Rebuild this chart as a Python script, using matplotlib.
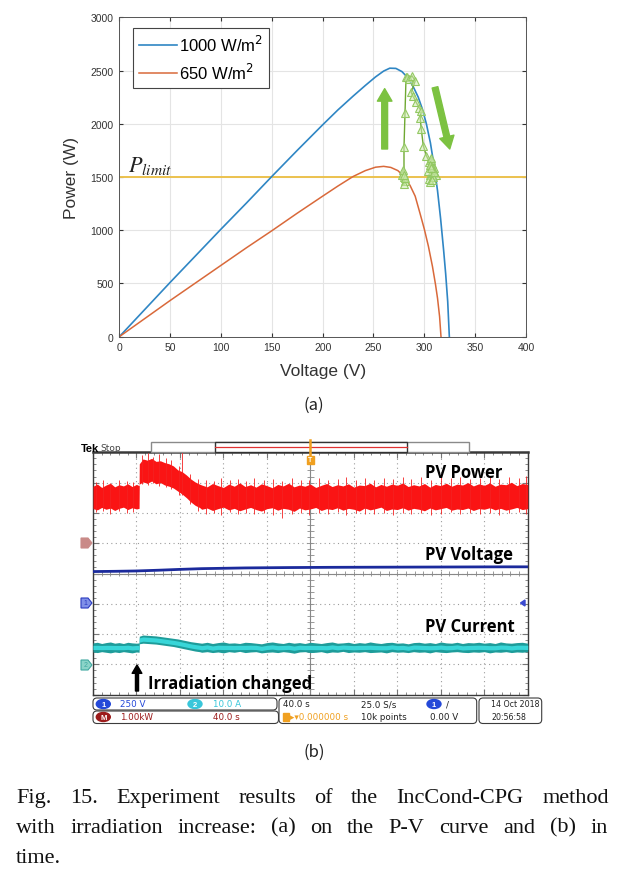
import numpy as np
import matplotlib
matplotlib.use('Agg')
import matplotlib.pyplot as plt
from matplotlib import font_manager
from matplotlib.patches import Rectangle, FancyBboxPatch, Polygon, Ellipse

plt.rcParams['font.family'] = ['Liberation Sans', 'DejaVu Sans']

W, H = 617, 879

# ---- (a) P-V curves ----
v_1000 = [0, 25, 50, 75, 100, 125, 150, 175, 200, 215, 230, 242, 252, 260, 266, 272, 278, 284, 289, 294,
          298, 302, 306, 310, 313, 316, 319, 321, 323, 324.6]
p_1000 = [0, 255, 510, 760, 1010, 1255, 1505, 1750, 1990, 2130, 2260, 2360, 2440, 2495, 2522, 2520, 2490, 2430,
          2350, 2250, 2140, 2000, 1820, 1580, 1370, 1110, 810, 590, 330, 0]
v_650 = [0, 25, 50, 75, 100, 125, 150, 175, 200, 215, 230, 242, 252, 260, 267, 274, 280, 286, 291, 296, 300,
         304, 308, 311, 313, 315, 316.4]
p_650 = [0, 170, 340, 505, 670, 835, 995, 1160, 1320, 1415, 1505, 1560, 1592, 1600, 1590, 1560, 1505, 1420,
         1320, 1150, 1010, 850, 660, 490, 360, 190, 0]
p_limit = 1500
traj_v = [280, 279, 281, 278, 280, 279, 281, 280, 280, 281, 282, 283, 285, 288, 291, 287, 289, 292, 295, 297, 296,
          297, 299, 302, 305, 307, 309, 306, 308, 310, 305, 307, 309, 306, 308, 311, 304, 307, 309, 306, 308, 310, 307]
traj_p = [1500, 1540, 1460, 1520, 1430, 1570, 1490, 1520, 1780, 2100, 2436, 2440, 2420, 2450, 2400, 2295, 2260, 2200,
          2150, 2120, 2050, 1950, 1794, 1700, 1640, 1600, 1560, 1520, 1620, 1580, 1480, 1660, 1540, 1450, 1590, 1520,
          1560, 1680, 1500, 1610, 1470, 1550, 1580]
legend_labels = ['1000 W/m$^2$', '650 W/m$^2$']
xticks_a = [0, 50, 100, 150, 200, 250, 300, 350, 400]
yticks_a = [0, 500, 1000, 1500, 2000, 2500, 3000]

# ---- (b) scope traces ----
t_env = [0, 4, 8, 12, 16, 20, 24, 28, 32, 36, 40, 42.4, 42.6, 46, 50, 54, 58, 62, 66, 70, 74, 78, 82, 86, 90, 94, 98] \
        + list(range(100, 401, 5))
pw_hi = [1.88, 1.95, 1.84, 1.92, 1.98, 1.86, 1.93, 1.89, 1.96, 1.87, 1.94, 1.90, 2.62,
         2.78, 2.74, 2.80, 2.70, 2.72, 2.66, 2.62, 2.55, 2.42, 2.36, 2.25, 2.12, 2.02, 1.95,
         1.92, 1.86, 1.97, 1.90, 1.84, 1.95, 1.88, 1.99, 1.87, 1.93,
         1.85, 1.96, 1.90, 1.83, 1.94, 1.89, 1.98, 1.86, 1.92, 1.88,
         1.95, 1.84, 1.91, 1.97, 1.87, 1.93, 1.89, 1.96, 1.85, 1.92,
         1.90, 1.98, 1.86, 1.94, 1.88, 1.95, 1.91, 1.99, 1.87, 1.93,
         1.89, 1.97, 1.85, 1.94, 1.90, 1.98, 1.88, 1.95, 1.92, 2.00,
         1.89, 1.96, 1.91, 1.99, 1.88, 1.95, 1.93, 2.01, 1.90, 1.97, 1.94]
pw_lo = [1.14, 1.10, 1.18, 1.12, 1.16, 1.08, 1.15, 1.19, 1.11, 1.17, 1.13, 1.15, 1.95,
         2.02, 1.98, 2.05, 1.96, 2.00, 1.92, 1.88, 1.82, 1.72, 1.62, 1.50, 1.36, 1.25, 1.18,
         1.12, 1.16, 1.08, 1.14, 1.19, 1.10, 1.15, 1.07, 1.13, 1.18,
         1.11, 1.06, 1.14, 1.17, 1.09, 1.15, 1.12, 1.05, 1.16, 1.10,
         1.13, 1.18, 1.08, 1.14, 1.11, 1.17, 1.09, 1.15, 1.12, 1.06,
         1.16, 1.10, 1.14, 1.19, 1.08, 1.13, 1.11, 1.17, 1.09, 1.15,
         1.12, 1.07, 1.16, 1.10, 1.14, 1.18, 1.09, 1.13, 1.11, 1.16,
         1.08, 1.14, 1.12, 1.17, 1.10, 1.15, 1.09, 1.13, 1.18, 1.11, 1.14]
spk_t = [3, 9, 16, 24, 31, 37, 45, 51, 55, 61, 67, 72, 79, 82, 89, 97, 104, 111, 118, 126, 133, 141, 148,
         157, 166, 174, 183, 191, 199, 208, 216, 225, 233, 242, 250, 259, 268, 276, 285, 293,
         302, 311, 320, 329, 338, 347, 356, 365, 374, 383, 392, 398]
spk_lo = [1.02, 1.05, 0.98, 1.06, 1.00, 1.04, 1.96, 1.92, 1.98, 1.90, 1.86, 1.80, 1.60, 1.58, 1.30, 1.05,
          0.98, 1.00, 0.92, 1.02, 0.95, 0.99, 0.96, 1.00, 0.93, 0.82, 0.97, 1.01, 0.94,
          0.99, 0.96, 1.02, 0.92, 1.00, 0.97, 0.95, 1.01, 0.93, 0.99, 0.96,
          1.00, 0.94, 0.98, 1.02, 0.95, 0.99, 0.97, 1.01, 0.94, 0.99, 1.03, 0.96]
spk_hi = [2.02, 2.08, 2.00, 2.10, 2.05, 2.03, 2.90, 2.98, 2.86, 2.93, 2.80, 2.75, 2.55, 3.05, 2.30, 2.12,
          2.10, 2.05, 2.14, 2.08, 2.12, 2.06, 2.15, 2.09, 2.13, 2.05, 2.16, 2.10, 2.08,
          2.15, 2.07, 2.12, 2.18, 2.10, 2.14, 2.09, 2.16, 2.11, 2.19, 2.13,
          2.17, 2.10, 2.20, 2.14, 2.18, 2.12, 2.16, 2.21, 2.13, 2.19, 2.15, 2.22]
cur_hi = [7.1, 7.3, 6.9, 7.2, 7.4, 7.0, 7.2, 6.9, 7.3, 7.1, 7.0, 7.1, 9.3,
          9.7, 9.6, 9.5, 9.4, 9.2, 9.0, 8.8, 8.6, 8.4, 8.1, 7.8, 7.5, 7.3, 7.1,
          7.0, 7.3, 6.9, 7.2, 7.4, 7.0, 7.1, 6.9, 7.3, 7.2,
          7.0, 6.8, 7.2, 7.4, 7.1, 6.9, 7.3, 7.0, 7.2, 6.9,
          7.3, 7.1, 6.9, 7.2, 7.4, 7.0, 7.1, 7.3, 6.9, 7.2,
          7.0, 7.4, 7.1, 6.9, 7.2, 7.3, 7.0, 7.1, 6.8, 7.2,
          7.3, 7.0, 7.2, 6.9, 7.4, 7.1, 7.0, 7.3, 6.9, 7.2,
          7.1, 7.3, 7.0, 7.2, 6.9, 7.4, 7.1, 7.0, 7.2, 7.3, 7.0]
cur_lo = [4.1, 3.9, 4.2, 4.0, 3.8, 4.1, 3.9, 4.2, 4.0, 3.8, 4.1, 4.0, 6.8,
          7.0, 6.9, 6.8, 6.7, 6.5, 6.3, 6.1, 5.9, 5.6, 5.3, 5.0, 4.7, 4.4, 4.2,
          4.0, 4.2, 3.9, 4.1, 3.8, 4.2, 4.0, 4.3, 3.9, 4.1,
          4.2, 3.8, 4.0, 4.1, 3.9, 4.2, 4.0, 3.7, 4.1, 4.2,
          3.9, 4.0, 4.2, 3.8, 4.1, 4.0, 4.3, 3.9, 4.1, 4.0,
          4.2, 3.9, 4.0, 4.1, 3.8, 4.2, 4.0, 4.1, 3.9, 4.2,
          4.0, 4.1, 3.8, 4.2, 4.0, 3.9, 4.1, 4.2, 4.0, 3.9,
          4.1, 4.0, 4.2, 3.8, 4.1, 4.0, 4.2, 3.9, 4.1, 4.0, 4.2]
t_volt = [0, 20, 40, 60, 80, 100, 140, 180, 220, 260, 300, 340, 380, 400]
volt = [266, 268, 271, 277, 284, 290, 296, 299, 301, 302, 303, 304, 305, 305]

# scope channel settings (per division) and reference offsets (divisions)
kw_div, v_div, a_div = 1.0, 250.0, 10.0
m_off, ch1_off, ch2_off = 1.0, -1.0, -3.0

# ---------------------------------------------------------------
fig = plt.figure(figsize=(W / 100, H / 100), dpi=100)


def px_axes(x0, y0, x1, y1, **kw):
    return fig.add_axes([x0 / W, 1 - y1 / H, (x1 - x0) / W, (y1 - y0) / H], **kw)


ax = px_axes(119.3, 18.3, 526, 337.7)
ax.grid(True, color='#e4e4e4', lw=0.8)
ax.set_axisbelow(True)
ax.plot(v_1000, p_1000, color='#2f86c4', lw=1.2, label=legend_labels[0])
ax.plot(v_650, p_650, color='#d9693a', lw=1.1, label=legend_labels[1])
ax.axhline(p_limit, color='#ecc24e', lw=1.4, zorder=1.5)
ax.plot(traj_v, traj_p, color='#6fa832', lw=1.0, marker='^', ms=6,
        mfc=(0.82, 0.92, 0.70, 0.55), mec='#93c862', mew=0.8, zorder=4)
arrow_kw = dict(arrowstyle='simple,head_width=1.05,head_length=0.9,tail_width=0.42',
                color='#7cc241', shrinkA=0, shrinkB=0)
ax.annotate('', xy=(261, 2330), xytext=(261, 1763), arrowprops=arrow_kw, zorder=5)
ax.annotate('', xy=(325, 1763), xytext=(310.5, 2342), arrowprops=arrow_kw, zorder=5)
ax.text(8.5, 1560, r'$P_{limit}$', fontsize=16, math_fontfamily='stix', color='#222222')

ax.set_xlim(0, 400)
ax.set_ylim(0, 3000)
ax.set_xticks(xticks_a)
ax.set_yticks(yticks_a)
ax.tick_params(direction='in', top=True, right=True, length=3, labelsize=7.5,
               colors='#333333', pad=4)
for s in ax.spines.values():
    s.set_color('#555555')
    s.set_linewidth(0.7)
ax.set_xlabel('Voltage (V)', fontsize=12.5, color='#333333')
ax.set_ylabel('Power (W)', fontsize=12.5, color='#333333')
ax.xaxis.set_label_coords(0.5, -0.082)
ax.yaxis.set_label_coords(-0.10, 0.5)
leg = ax.legend(loc='upper left', bbox_to_anchor=(0.033, 0.9655), borderaxespad=0,
                fontsize=12, fancybox=False, edgecolor='#444444', framealpha=1,
                handlelength=2.3, handletextpad=0.15, borderpad=0.35, labelspacing=0.45)
leg.get_frame().set_linewidth(0.8)

# ---- scope screen ----
sc = px_axes(93, 453.3, 527.7, 695.7)
sc.set_xlim(0, 400)
sc.set_ylim(-4, 4)
sc.set_xticks(np.arange(0, 401, 40))
sc.set_yticks(np.arange(-4, 5, 1))
sc.set_xticks(np.arange(0, 401, 8), minor=True)
sc.set_yticks(np.arange(-4, 4.01, 0.2), minor=True)
sc.tick_params(which='both', direction='in', top=True, right=True,
               labelbottom=False, labelleft=False, color='#777777')
sc.tick_params(which='major', length=4)
sc.tick_params(which='minor', length=2)
sc.grid(True, which='major', color='#9c9c9c', lw=0.8, linestyle=(0, (1, 3)))
sc.axhline(0, color='#888888', lw=0.8)
sc.axvline(200, color='#888888', lw=0.8)
sc.vlines(np.arange(0, 401, 8), -0.08, 0.08, color='#888888', lw=0.6)
sc.hlines(np.arange(-4, 4.01, 0.2), 197, 203, color='#888888', lw=0.6)
for s in sc.spines.values():
    s.set_color('#3a3a3a')
    s.set_linewidth(1.0)
sc.spines['top'].set_linewidth(1.8)

pw_hi_d = np.array(pw_hi) / kw_div + m_off
pw_lo_d = np.array(pw_lo) / kw_div + m_off
sc.fill_between(t_env, pw_lo_d, pw_hi_d, color='#fa1414', lw=0, zorder=3)
sc.vlines(spk_t, np.array(spk_lo) / kw_div + m_off, np.array(spk_hi) / kw_div + m_off,
          color='#f52020', lw=0.6, zorder=3)

cur_hi_d = np.array(cur_hi) / a_div + ch2_off
cur_lo_d = np.array(cur_lo) / a_div + ch2_off
cur_mid = (cur_hi_d + cur_lo_d) / 2
sc.fill_between(t_env, cur_lo_d, cur_hi_d, color='#1e9c9a', lw=0, zorder=3)
sc.fill_between(t_env, cur_mid - 0.07, cur_mid + 0.07, color='#38d6d8', lw=0, zorder=3.2)

sc.plot(t_volt, np.array(volt) / v_div + ch1_off, color='#1b2a9c', lw=2.0, zorder=3)

# ---- overlay in figure pixels ----
deco = fig.add_axes([0, 0, 1, 1], zorder=5)
deco.set_xlim(0, W)
deco.set_ylim(H, 0)
deco.axis('off')
deco.patch.set_visible(False)

names = {f.name for f in font_manager.fontManager.ttflist}
narrow = 'Liberation Sans Narrow' if 'Liberation Sans Narrow' in names else 'DejaVu Sans'
ssize = 8 if narrow != 'DejaVu Sans' else 6.3
lab_font = 'Open Sans' if 'Open Sans' in names else 'DejaVu Sans'
kr_font = ['Noto Sans CJK KR', 'DejaVu Sans']

deco.text(314, 405, '(a)', fontsize=12, family=kr_font, ha='center', va='center', color='#222222')
deco.text(314, 752, '(b)', fontsize=12, family=kr_font, ha='center', va='center', color='#222222')

# header bar
deco.text(81, 449, 'Tek', fontsize=8, fontweight='bold', ha='left', va='center', color='black')
deco.text(100.5, 449, 'Stop', fontsize=6.5, ha='left', va='center', color='#444444', family=[narrow])
deco.add_patch(Rectangle((151.3, 443.3), 318, 9.4, fc='white', ec='#8a8a8a', lw=1.0))
deco.add_patch(Rectangle((214.7, 443.3), 192, 9.4, fc='white', ec='#333333', lw=1.0))
deco.plot([215, 406.7], [447.7, 447.7], color='#e03030', lw=0.9)
deco.plot([310, 310], [441, 456], color='#f0a020', lw=1.8)
deco.add_patch(Rectangle((306.5, 456.5), 7, 8, fc='#f0a020', ec='#f0a020'))
deco.text(310, 460.5, 'T', fontsize=5, color='white', ha='center', va='center', fontweight='bold')


# channel markers
def ch_marker(y, fc, ec, txt):
    deco.add_patch(Polygon([(81, y - 5), (88, y - 5), (92, y), (88, y + 5), (81, y + 5)],
                           closed=True, fc=fc, ec=ec, lw=0.8))
    deco.text(85.5, y, txt, fontsize=5, color=ec, ha='center', va='center')


ch_marker(544, '#c98a88', '#c98a88', '')
ch_marker(604, '#8090e8', '#2a3ac0', '1')
ch_marker(666, '#8ad4c8', '#40a8a0', '2')
deco.add_patch(Polygon([(520.5, 604), (525, 601), (525, 607)], closed=True, fc='#3a4ad0', ec='#3a4ad0'))

# trace labels
deco.text(425, 473, 'PV Power', fontsize=12, fontweight='bold', family=lab_font, va='center', color='black')
deco.text(425, 555, 'PV Voltage', fontsize=12, fontweight='bold', family=lab_font, va='center', color='black')
deco.text(425, 627, 'PV Current', fontsize=12, fontweight='bold', family=lab_font, va='center', color='black')
deco.text(148, 684, 'Irradiation changed', fontsize=12, fontweight='bold', family=lab_font,
          va='center', color='black')
deco.annotate('', xy=(137, 666), xytext=(137, 692),
              arrowprops=dict(arrowstyle='simple,head_width=0.7,head_length=0.6,tail_width=0.22',
                              color='black', shrinkA=0, shrinkB=0))

# status bar
box = dict(boxstyle='round,pad=0,rounding_size=4', fc='white', ec='#3c3c3c', lw=0.8)
deco.add_patch(FancyBboxPatch((93, 699), 184, 12, **box))
deco.add_patch(FancyBboxPatch((93, 712), 185.5, 12.5, **box))
deco.add_patch(FancyBboxPatch((279, 699), 197.7, 25.5, **box))
deco.add_patch(FancyBboxPatch((479, 699), 62.7, 25.5, **box))


def oval(x, y, c, txt):
    deco.add_patch(Ellipse((x, y), 14, 9, fc=c, ec=c))
    deco.text(x, y + 0.3, txt, fontsize=5.5, color='white', ha='center', va='center', fontweight='bold')


r1, r2 = 705, 718
blue, cyan, dred, orange = '#2448d8', '#38c6da', '#9c1c1c', '#f0a020'
oval(103.3, r1, blue, '1')
oval(195, r1, cyan, '2')
oval(103.3, r2, dred, 'M')
oval(434, r1, blue, '1')
st = dict(fontsize=ssize, family=[narrow, 'DejaVu Sans'], va='center', ha='left')
deco.text(120, r1, '250 V', color=blue, **st)
deco.text(212.7, r1, '10.0 A', color=cyan, **st)
deco.text(120, r2, '1.00kW', color=dred, **st)
deco.text(212.7, r2, '40.0 s', color=dred, **st)
deco.text(282.7, r1, '40.0 s', color='#222222', **st)
deco.text(361, r1, '25.0 S/s', color='#222222', **st)
deco.text(446, r1, '/', color='#222222', **st)
deco.add_patch(Rectangle((282.5, r2 - 4), 6, 8, fc=orange, ec=orange))
deco.text(290, r2, '\u25b8\u25be0.000000 s', color=orange, **st)
deco.text(361, r2, '10k points', color='#222222', **st)
deco.text(430, r2, '0.00 V', color='#222222', **st)
st_date = dict(st, fontsize=ssize - 0.6)
deco.text(491, r1, '14 Oct 2018', color='#222222', **st_date)
deco.text(491, r2, '20:56:58', color='#222222', **st_date)

# caption, justified between x0 and x1
cap_kw = dict(fontsize=16, family=['Liberation Serif', 'DejaVu Serif'], color='#111111', va='baseline')
renderer = fig.canvas.get_renderer()


def justify(words, y, x0, x1):
    texts = [deco.text(0, y, w, **cap_kw) for w in words]
    widths = [t.get_window_extent(renderer).width for t in texts]
    gap = (x1 - x0 - sum(widths)) / max(len(words) - 1, 1)
    x = x0
    for t, w in zip(texts, widths):
        t.set_x(x)
        x += w + gap


justify('Fig. 15. Experiment results of the IncCond-CPG method'.split(), 802.7, 16, 608.7)
justify('with irradiation increase: (a) on the P-V curve and (b) in'.split(), 832.7, 16, 607.7)
deco.text(16, 862.7, 'time.', **cap_kw)

fig.savefig('out.png', dpi=100)
